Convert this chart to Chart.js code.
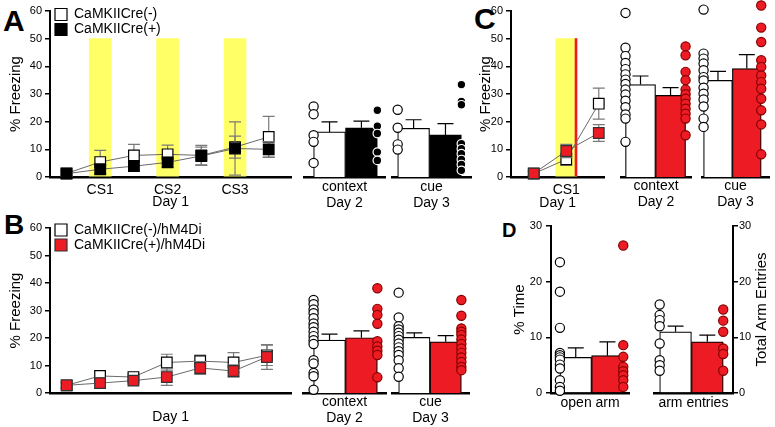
<!DOCTYPE html>
<html>
<head>
<meta charset="utf-8">
<script src="https://cdn.jsdelivr.net/npm/chart.js@4.4.1/dist/chart.umd.min.js"></script>
<style>
  html, body { margin: 0; padding: 0; background: #fff; }
  #fig { position: relative; width: 775px; height: 427px; overflow: hidden; font-family: 'Liberation Sans', Arial, sans-serif; }
  #fig canvas { position: absolute; }
  .tag { position: absolute; font-weight: bold; line-height: 1; color: #000; }
</style>
</head>
<body>
<div id="fig">
  <div class="tag" style="left:3px;top:6px;font-size:30px">A</div>
  <div class="tag" style="left:4px;top:211px;font-size:28px">B</div>
  <div class="tag" style="left:474px;top:4px;font-size:30px">C</div>
  <div class="tag" style="left:502px;top:220px;font-size:20px">D</div>
</div>
<script>
// ---- data ----
// A: day 1 conditioning, 7 time bins; context (day 2) and cue (day 3) tests
const trialsA = [0, 1, 2, 3, 4, 5, 6];
const csAt = [1, 3, 5];
const csNames = ['CS1', 'CS2', 'CS3'];
const csWindow = 50;
const aNegMean = [1.3, 5.4, 7.8, 8.2, 7.8, 10.8, 14.5];
const aNegErr = [1.0, 4.2, 4.0, 3.3, 3.6, 4.0, 7.4];
const aPosMean = [1.2, 2.8, 3.9, 5.3, 7.6, 10.3, 10.0];
const aPosErr = [1.0, 1.6, 1.6, 1.8, 3.2, 9.6, 2.8];
const aCtxMean = [16.3, 17.8];
const aCtxErr = [3.6, 2.4];
const aCtxNeg = [25.5, 22.7, 15.1, 12.7, 5.1];
const aCtxPos = [24.1, 18.4, 15.7, 9.0, 6.0];
const aCueMean = [17.6, 15.2];
const aCueErr = [3.1, 4.1];
const aCueNeg = [24.3, 17.8, 11.8, 9.9];
const aCuePos = [33.4, 27.3, 26.1, 12.0, 10.2, 8.4, 6.3, 4.5, 2.4];

// B: hM4Di groups
const trialsB = [0, 1, 2, 3, 4, 5, 6];
const bNegMean = [2.8, 6.2, 5.8, 11.1, 11.6, 11.1, 13.7];
const bNegErr = [1.0, 1.8, 1.2, 3.0, 2.2, 3.6, 3.7];
const bPosMean = [2.8, 3.6, 4.5, 5.8, 9.1, 8.0, 13.1];
const bPosErr = [1.0, 1.8, 1.2, 3.0, 2.3, 2.2, 4.5];
const bCtxMean = [19.2, 20.1];
const bCtxErr = [2.2, 2.5];
const bCtxNeg = [33.8, 32.3, 30.4, 29.0, 27.2, 25.3, 23.9, 22.3, 20.7, 19.2, 17.8, 11.9, 10.7, 7.3, 6.1, 1.2];
const bCtxPos = [38.1, 30.6, 28.4, 25.2, 18.8, 16.9, 15.4, 13.8, 5.7];
const bCueMean = [20.2, 18.6];
const bCueErr = [1.7, 2.3];
const bCueNeg = [36.5, 27.5, 24.3, 23.1, 21.9, 20.7, 19.4, 18.0, 16.6, 15.2, 13.8, 11.9, 9.0, 5.9];
const bCuePos = [33.8, 28.1, 23.5, 22.3, 21.1, 19.5, 17.8, 16.2, 14.6, 12.9, 11.3, 9.5, 8.3];

// C: single CS with shock
const trialsC = [0, 1, 2];
const csAtC = [1];
const csNamesC = ['CS1'];
const shockC = [1.3];
const cNegMean = [1.2, 6.4, 26.5];
const cNegErr = [0.8, 2.2, 5.6];
const cPosMean = [1.3, 9.4, 15.9];
const cPosErr = [0.8, 2.4, 3.0];
const cCtxMean = [33.4, 29.5];
const cCtxErr = [3.1, 2.8];
const cCtxNeg = [59.3, 46.7, 43.7, 41.2, 39.0, 37.1, 35.2, 33.6, 31.6, 29.8, 27.6, 25.2, 22.6, 21.1, 12.7];
const cCtxPos = [47.2, 44.0, 38.0, 35.0, 31.6, 29.9, 28.3, 26.5, 24.7, 22.9, 21.1, 15.1];
const cCueMean = [34.9, 39.2];
const cCueErr = [3.3, 5.0];
const cCueNeg = [60.5, 44.6, 42.8, 41.0, 38.6, 36.1, 34.9, 32.3, 30.1, 28.0, 25.5, 21.1, 18.1];
const cCuePos = [62.0, 54.0, 48.8, 42.2, 39.8, 36.7, 34.3, 31.9, 28.3, 24.1, 19.0, 8.2];

// D: elevated plus maze
const dOpenMean = [6.4, 6.7];
const dOpenErr = [1.7, 2.5];
const dOpenNeg = [23.5, 18.2, 11.7, 7.2, 6.8, 6.4, 6.0, 5.1, 4.4, 2.3, 1.1, 0.4];
const dOpenPos = [26.5, 8.6, 6.5, 4.7, 3.9, 3.2, 2.3, 1.1];
const dArmMean = [11.0, 9.2];
const dArmErr = [1.0, 1.2];
const dArmNeg = [15.9, 14.0, 13.1, 12.0, 8.9, 5.9, 5.0, 4.0];
const dArmPos = [15.0, 13.0, 11.0, 8.0, 7.0, 4.0];

// ---- styling ----
const FAMILY = "'Liberation Sans', Arial, sans-serif";
Chart.defaults.font.family = FAMILY;
Chart.defaults.color = '#000';
Chart.defaults.animation = false;

const RED = '#ed1c24';
const RED_EDGE = '#850000';
const YELLOW = 'rgb(255,255,102)';
const fig = document.getElementById('fig');

// whiskers: both ways for the time courses, upward only for bars
const errorBars = {
  id: 'errorBars',
  beforeDatasetDraw(chart, args) {
    const ds = chart.data.datasets[args.index];
    if (!ds.err) return;
    const meta = args.meta;
    const yScale = chart.scales[meta.yAxisID];
    const ctx = chart.ctx;
    ctx.save();
    ctx.strokeStyle = ds.errColor;
    ctx.lineWidth = 1.2;
    ctx.beginPath();
    meta.data.forEach((el, j) => {
      const v = ds.data[j].y;
      const hi = yScale.getPixelForValue(v + ds.err[j]);
      const lo = ds.errBoth ? yScale.getPixelForValue(v - ds.err[j]) : el.y;
      ctx.moveTo(el.x, lo); ctx.lineTo(el.x, hi);
      ctx.moveTo(el.x - ds.cap, hi); ctx.lineTo(el.x + ds.cap, hi);
      if (ds.errBoth) { ctx.moveTo(el.x - ds.cap, lo); ctx.lineTo(el.x + ds.cap, lo); }
    });
    ctx.stroke();
    ctx.restore();
  }
};

// put the legend in the top left corner of the plot
const legendPlace = {
  id: 'legendPlace',
  afterLayout(chart, args, opts) {
    const lg = chart.legend;
    if (!lg || opts.top === undefined) return;
    lg.left = opts.left; lg.right = opts.left + 200;
    lg.top = opts.top; lg.bottom = opts.top + 80;
  }
};

// right-hand axis title reading bottom to top
const sideTitle = {
  id: 'sideTitle',
  afterDraw(chart, args, opts) {
    if (!opts.text) return;
    const a = chart.chartArea;
    const ctx = chart.ctx;
    ctx.save();
    ctx.translate(opts.x, (a.top + a.bottom) / 2);
    ctx.rotate(-Math.PI / 2);
    ctx.font = '15px ' + FAMILY;
    ctx.fillStyle = '#000';
    ctx.textAlign = 'center';
    ctx.textBaseline = 'middle';
    ctx.fillText(opts.text, 0, 0);
    ctx.restore();
  }
};

function canvasAt(left, top, width, height) {
  const c = document.createElement('canvas');
  c.width = width; c.height = height;
  c.style.left = left + 'px'; c.style.top = top + 'px';
  c.style.width = width + 'px'; c.style.height = height + 'px';
  fig.appendChild(c);
  return c;
}

function yAxis(max, o) {
  return {
    type: 'linear', min: 0, max: max, position: o.position || 'left',
    afterFit: s => { s.width = o.width; },
    ticks: { stepSize: 10, font: { size: 11 }, padding: o.tickPad },
    grid: { display: true, drawOnChartArea: false, drawTicks: true, tickLength: 5, color: '#000', lineWidth: 1.5 },
    border: { display: true, color: '#000', width: 2 },
    title: { display: !!o.title, text: o.title, font: { size: 15 }, padding: { top: o.titlePad || 0, bottom: 0 } }
  };
}

function xAxisBase(min, max, height, title) {
  return {
    type: 'linear', min: min, max: max, offset: false,
    afterFit: s => { s.height = height; },
    grid: { display: true, drawOnChartArea: false, drawTicks: false },
    border: { display: true, color: '#000', width: 2.5 },
    title: { display: true, text: title, font: { size: 14, lineHeight: 1.15 }, padding: 0 }
  };
}

function series(label, xs, mean, err, fill, edge, order) {
  return {
    type: 'line', label: label, data: mean.map((y, i) => ({ x: xs[i], y: y })),
    err: err, errBoth: true, errColor: '#7a7a7a', cap: 6,
    borderColor: '#6a6a6a', borderWidth: 1, backgroundColor: fill,
    pointStyle: 'rect', pointRadius: 7.5, pointBackgroundColor: fill,
    pointBorderColor: edge, pointBorderWidth: 1.2, order: order, clip: false
  };
}

function marks(xs, top, color, px, order) {
  return {
    type: 'bar', data: xs.map(x => ({ x: x, y: top })), backgroundColor: color,
    borderWidth: 0, barThickness: px, grouped: false, order: order
  };
}

function lineChart(p) {
  const w = p.yW + (p.r - p.l) + p.padR;
  const h = p.padT + (p.b - p.t) + p.xH;
  const c = canvasAt(p.l - p.yW, p.t - p.padT, w, h);
  const x = xAxisBase(p.xMin, p.xMax, p.xH, p.xTitle);
  if (p.tickAt) {
    x.afterBuildTicks = s => { s.ticks = p.tickAt.map(v => ({ value: v })); };
    x.ticks = { autoSkip: false, maxRotation: 0, padding: 5, font: { size: 14 },
      callback: v => p.tickText[p.tickAt.indexOf(v)] };
  } else {
    x.ticks = { display: false };
  }
  new Chart(c, {
    type: 'line',
    data: { datasets: p.datasets },
    options: {
      responsive: false, devicePixelRatio: 1,
      layout: { padding: { top: p.padT, right: p.padR, left: 0, bottom: 0 } },
      scales: {
        x: x,
        y: yAxis(60, { width: p.yW, title: '% Freezing', titlePad: p.yTitlePad, tickPad: 3 })
      },
      plugins: {
        legend: p.legendTop === undefined ? { display: false } : {
          display: true, position: 'chartArea', align: 'start',
          labels: { usePointStyle: true, boxWidth: 12, boxHeight: 12, padding: 1,
            font: { size: 14 }, color: '#000', filter: it => !!it.text,
            sort: (a, b) => a.datasetIndex - b.datasetIndex }
        },
        legendPlace: { left: 54, top: p.legendTop },
        tooltip: { enabled: false }
      }
    },
    plugins: [errorBars, legendPlace]
  });
}

function dots(x, ys, fill, edge, r) {
  return {
    type: 'scatter', data: ys.map(y => ({ x: x, y: y })), pointRadius: r,
    pointBackgroundColor: fill, pointBorderColor: edge, pointBorderWidth: 1.2,
    showLine: false, clip: false, order: 0
  };
}

function barPanel(p) {
  const c0 = p.barL + p.unit / 2;
  const w = p.padL + (p.axisR - p.axisL) + p.padR;
  const h = p.padT + (p.b - p.t) + p.xH;
  const c = canvasAt(p.axisL - p.padL, p.t - p.padT, w, h);
  const x = xAxisBase((p.axisL - c0) / p.unit, (p.axisR - c0) / p.unit, p.xH, p.title);
  x.afterBuildTicks = s => { s.ticks = [{ value: 0 }, { value: 1 }]; };
  x.ticks = { display: false };
  let y;
  if (p.yAxis) {
    y = yAxis(p.yMax, { position: p.yAxis, width: p.yAxis === 'left' ? p.padL : p.padR,
      title: p.yTitle, titlePad: p.yTitlePad, tickPad: p.tickPad });
  } else {
    y = { type: 'linear', min: 0, max: p.yMax, display: false };
  }
  new Chart(c, {
    type: 'bar',
    data: { datasets: [
      dots(-0.5, p.neg, '#fff', '#000', 4.6),
      dots(1.5, p.pos, p.fill, p.edge, p.dotR),
      {
        type: 'bar', data: p.mean.map((v, i) => ({ x: i, y: v })),
        backgroundColor: ['#fff', p.fill], borderColor: '#000', borderWidth: 1.2,
        categoryPercentage: 1, barPercentage: 1,
        err: p.err, errBoth: false, errColor: '#000', cap: 8, order: 5
      }
    ]},
    options: {
      responsive: false, devicePixelRatio: 1,
      layout: { padding: {
        top: p.padT, bottom: 0,
        left: p.yAxis === 'left' ? 0 : p.padL,
        right: p.yAxis === 'right' ? 0 : p.padR
      } },
      scales: { x: x, y: y },
      plugins: {
        legend: { display: false }, tooltip: { enabled: false },
        sideTitle: { text: p.sideText, x: p.sideX }
      }
    },
    plugins: [errorBars, sideTitle]
  });
}

// ---- panel A ----
lineChart({
  l: 50, r: 297, t: 11, b: 177, yW: 50, padT: 11, padR: 3, xH: 33, yTitlePad: 7,
  xMin: -0.49, xMax: 6.67, tickAt: csAt, tickText: csNames, xTitle: 'Day 1', legendTop: 6.5,
  datasets: [
    series('CaMKIICre(-)', trialsA, aNegMean, aNegErr, '#fff', '#000', 1),
    series('CaMKIICre(+)', trialsA, aPosMean, aPosErr, '#000', '#000', 0),
    marks(csAt, csWindow, YELLOW, 22, 9)
  ]
});
barPanel({ axisL: 303, axisR: 386, barL: 313, unit: 32.5, t: 11, b: 177, padL: 5, padR: 5, padT: 11, xH: 34,
  yMax: 60, title: ['context', 'Day 2'], mean: aCtxMean, err: aCtxErr, neg: aCtxNeg, pos: aCtxPos,
  fill: '#000', edge: '#fff', dotR: 4.3 });
barPanel({ axisL: 391, axisR: 472, barL: 397, unit: 32.5, t: 11, b: 177, padL: 5, padR: 5, padT: 11, xH: 34,
  yMax: 60, title: ['cue', 'Day 3'], mean: aCueMean, err: aCueErr, neg: aCueNeg, pos: aCuePos,
  fill: '#000', edge: '#fff', dotR: 4.3 });

// ---- panel B ----
lineChart({
  l: 50, r: 298, t: 228, b: 393, yW: 50, padT: 28, padR: 2, xH: 32, yTitlePad: 7,
  xMin: -0.5, xMax: 6.73, xTitle: 'Day 1', legendTop: 22,
  datasets: [
    series('CaMKIICre(-)/hM4Di', trialsB, bNegMean, bNegErr, '#fff', '#000', 1),
    series('CaMKIICre(+)/hM4Di', trialsB, bPosMean, bPosErr, RED, '#333', 0)
  ]
});
barPanel({ axisL: 302, axisR: 387, barL: 313, unit: 32.5, t: 228, b: 393, padL: 5, padR: 5, padT: 12, xH: 33,
  yMax: 60, title: ['context', 'Day 2'], mean: bCtxMean, err: bCtxErr, neg: bCtxNeg, pos: bCtxPos,
  fill: RED, edge: RED_EDGE, dotR: 4.6 });
barPanel({ axisL: 391, axisR: 470, barL: 398, unit: 32, t: 228, b: 393, padL: 5, padR: 5, padT: 12, xH: 33,
  yMax: 60, title: ['cue', 'Day 3'], mean: bCueMean, err: bCueErr, neg: bCueNeg, pos: bCuePos,
  fill: RED, edge: RED_EDGE, dotR: 4.6 });

// ---- panel C ----
lineChart({
  l: 511, r: 610, t: 11, b: 177, yW: 50, padT: 11, padR: 3, xH: 34, yTitlePad: 16,
  xMin: -0.7, xMax: 2.17, tickAt: csAtC, tickText: csNamesC, xTitle: 'Day 1',
  datasets: [
    series('CaMKIICre(-)/hM4Di', trialsC, cNegMean, cNegErr, '#fff', '#000', 1),
    series('CaMKIICre(+)/hM4Di', trialsC, cPosMean, cPosErr, RED, '#333', 0),
    marks(shockC, csWindow, RED, 2, 8),
    marks(csAtC, csWindow, YELLOW, 21, 9)
  ]
});
barPanel({ axisL: 620, axisR: 695, barL: 625, unit: 32, t: 11, b: 177, padL: 5, padR: 2, padT: 11, xH: 33,
  yMax: 60, title: ['context', 'Day 2'], mean: cCtxMean, err: cCtxErr, neg: cCtxNeg, pos: cCtxPos,
  fill: RED, edge: RED_EDGE, dotR: 4.6 });
barPanel({ axisL: 699, axisR: 775, barL: 701, unit: 32.5, t: 11, b: 177, padL: 3, padR: 0, padT: 11, xH: 33,
  yMax: 60, title: ['cue', 'Day 3'], mean: cCueMean, err: cCueErr, neg: cCueNeg, pos: cCuePos,
  fill: RED, edge: RED_EDGE, dotR: 4.6 });

// ---- panel D ----
barPanel({ axisL: 551, axisR: 630, barL: 560, unit: 32, t: 226, b: 393, padL: 51, padR: 5, padT: 26, xH: 18,
  yMax: 30, yAxis: 'left', yTitle: '% Time', yTitlePad: 11, tickPad: 4,
  title: 'open arm', mean: dOpenMean, err: dOpenErr, neg: dOpenNeg, pos: dOpenPos,
  fill: RED, edge: RED_EDGE, dotR: 4.6 });
barPanel({ axisL: 652, axisR: 733, barL: 658, unit: 32.5, t: 226, b: 393, padL: 4, padR: 42, padT: 26, xH: 18,
  yMax: 30, yAxis: 'right', tickPad: 1, sideText: 'Total Arm Entries', sideX: 114,
  title: 'arm entries', mean: dArmMean, err: dArmErr, neg: dArmNeg, pos: dArmPos,
  fill: RED, edge: RED_EDGE, dotR: 4.6 });
</script>
</body>
</html>
